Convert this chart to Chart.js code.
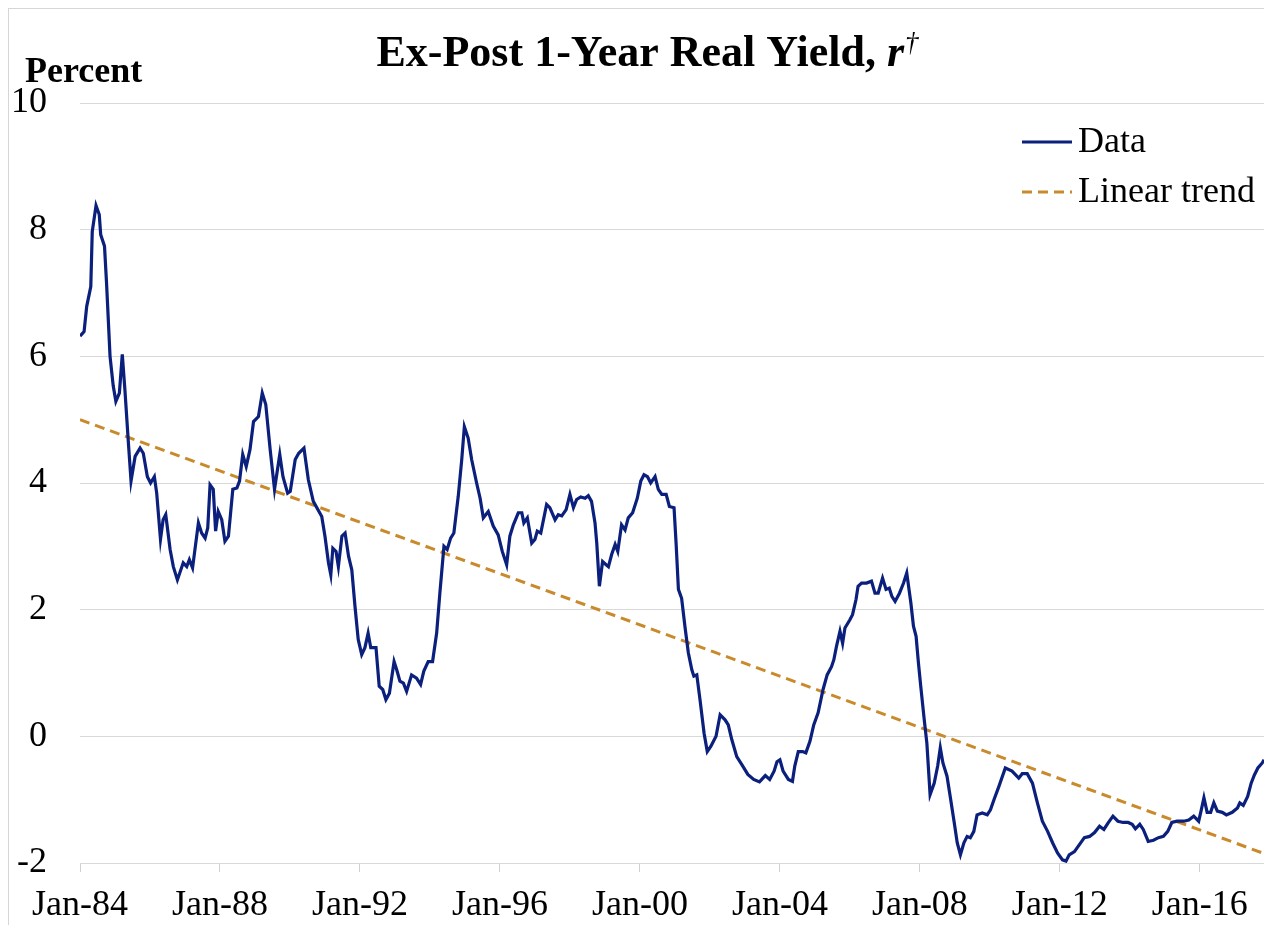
<!DOCTYPE html>
<html><head><meta charset="utf-8">
<script src="https://cdn.jsdelivr.net/npm/chart.js@4.4.0/dist/chart.umd.min.js"></script>
<style>
html,body{margin:0;padding:0;background:#fff;}
#wrap{position:relative;width:1264px;height:925px;overflow:hidden;}
#frame{position:absolute;left:8px;top:8px;right:-2px;bottom:-2px;border-left:1px solid #d6d6d6;border-top:1px solid #d6d6d6;}
canvas{position:absolute;left:0;top:0;}
</style></head><body>
<div id="wrap"><div id="frame"></div><canvas id="c" width="1264" height="925"></canvas></div>
<script>
// months since Jan-84
const monthIndex = [
0,1.4,2.3,3.7,4.2,5.5,6.6,7.1,8.4,9.1,10.3,11.4,12.3,13.5,14.5,15.4,16.6,17.5,18.9,20.6,21.7,23.1,24.2,25.5,26.3,27.6,28.5,29.4,30.9,32.0,33.4,35.4,36.6,37.5,38.6,40.6,41.7,42.9,43.8,44.6,45.7,46.5,47.4,48.6,49.7,50.9,52.4,53.8,54.7,55.8,57.0,58.3,59.5,61.2,62.5,63.7,65.2,66.7,68.5,69.6,71.2,72.1,73.8,75.0,
76.8,78.3,80.0,82.9,84.0,85.2,86.0,86.7,87.8,88.6,89.8,90.9,92.1,93.2,94.3,95.4,96.6,97.7,98.8,99.7,101.5,102.6,103.8,104.9,106.1,107.7,108.6,109.7,110.9,112.0,113.7,115.4,116.8,117.9,119.4,120.9,122.3,123.4,124.8,125.9,127.1,128.2,129.7,130.9,131.8,133.1,134.3,136.0,137.2,138.3,140.0,141.7,143.4,144.8,146.3,147.4,148.6,150.3,151.5,152.2,153.4,154.9,156.0,156.8,158.0,
160.0,161.1,162.9,164.0,165.2,166.7,168.0,169.2,170.3,171.7,173.2,174.3,175.4,176.6,177.2,178.1,179.2,180.4,181.2,182.3,183.5,184.4,185.7,186.9,188.0,189.5,191.1,192.3,193.4,194.6,195.7,197.2,198.3,199.5,201.0,202.1,203.7,204.4,205.2,206.3,207.5,208.6,209.8,210.5,211.5,212.6,214.0,215.1,216.3,218.1,219.5,221.2,222.3,223.5,225.2,
227,229,231,233,235,236.5,238,239,
240.0,241.1,242.9,244.3,245.1,246.3,247.8,248.9,250.3,251.6,253.1,254.8,256.2,257.7,258.5,259.4,260.6,261.5,262.3,264.0,264.9,266.1,266.8,268.0,269.7,271.4,272.6,273.7,275.2,276.4,277.5,278.4,279.5,281.0,282.4,283.5,284.9,285.8,286.7,287.5,288.3,289.5,290.4,291.5,292.9,294.1,295.0,295.9,297.3,298.4,299.8,300.8,301.9,303.1,304.2,305.3,306.5,307.6,309.4,311.1,312.2,313.4,315.1,
317.3,319.6,321.9,323.1,324.8,326.6,328.3,330.0,331.8,333.5,335.2,336.9,338.1,339.2,341.0,342.7,344.4,346.2,347.9,349.6,351.1,352.5,354.2,355.9,357.7,359.4,360.8,361.9,363.4,364.6,366.3,368.1,369.8,371.5,373.0,374.4,376.2,378.5,380.2,381.9,383.6,384.5,385.4,386.5,387.7,388.8,390.0,391.7,393.1,395.1,396.9,397.7,398.9,400.4,401.6,402.7,403.9,405.4,406.0
];
const realYield = [
6.32,6.39,6.79,7.10,7.97,8.38,8.24,7.92,7.74,7.16,6.00,5.53,5.29,5.42,6.03,5.47,4.63,4.03,4.42,4.55,4.47,4.10,4.00,4.10,3.84,3.11,3.42,3.50,2.95,2.68,2.47,2.74,2.68,2.79,2.66,3.37,3.21,3.13,3.29,3.97,3.90,3.24,3.55,3.42,3.08,3.16,3.90,3.92,4.03,4.45,4.26,4.53,4.97,5.05,5.42,5.24,4.53,3.90,4.45,4.10,3.84,3.87,4.37,4.47,
4.55,4.05,3.71,3.47,3.16,2.74,2.55,2.97,2.92,2.68,3.16,3.21,2.84,2.63,2.05,1.53,1.29,1.40,1.63,1.40,1.40,0.79,0.74,0.58,0.68,1.18,1.05,0.87,0.84,0.71,0.97,0.92,0.82,1.03,1.18,1.18,1.63,2.26,3.00,2.95,3.13,3.21,3.79,4.37,4.89,4.71,4.37,4.00,3.76,3.45,3.55,3.32,3.18,2.92,2.71,3.16,3.34,3.53,3.53,3.37,3.45,3.05,3.11,3.24,3.21,
3.66,3.61,3.42,3.50,3.48,3.58,3.82,3.61,3.74,3.78,3.76,3.80,3.71,3.37,3.05,2.37,2.76,2.71,2.68,2.87,3.03,2.92,3.34,3.26,3.45,3.53,3.76,4.03,4.13,4.10,4.00,4.10,3.90,3.82,3.82,3.63,3.61,3.05,2.32,2.18,1.71,1.32,1.05,0.95,0.97,0.58,0.05,-0.24,-0.16,0.00,0.34,0.26,0.18,-0.05,-0.32,
-0.45,-0.60,-0.68,-0.72,-0.62,-0.68,-0.55,-0.40,
-0.37,-0.55,-0.68,-0.71,-0.47,-0.24,-0.24,-0.26,-0.08,0.18,0.37,0.74,0.97,1.10,1.21,1.42,1.66,1.47,1.71,1.84,1.92,2.16,2.37,2.42,2.42,2.45,2.26,2.26,2.50,2.32,2.34,2.21,2.13,2.26,2.42,2.58,2.11,1.74,1.58,1.16,0.79,0.26,-0.11,-0.92,-0.74,-0.47,-0.18,-0.42,-0.63,-0.95,-1.37,-1.68,-1.87,-1.68,-1.58,-1.60,-1.50,-1.24,-1.21,-1.24,-1.16,-1.00,-0.79,
-0.50,-0.55,-0.66,-0.59,-0.59,-0.74,-1.05,-1.34,-1.50,-1.68,-1.84,-1.95,-1.97,-1.87,-1.82,-1.71,-1.60,-1.58,-1.52,-1.42,-1.47,-1.37,-1.26,-1.34,-1.36,-1.36,-1.39,-1.46,-1.39,-1.47,-1.66,-1.64,-1.60,-1.58,-1.50,-1.36,-1.34,-1.34,-1.32,-1.26,-1.34,-1.16,-0.97,-1.20,-1.20,-1.05,-1.18,-1.20,-1.24,-1.20,-1.13,-1.05,-1.09,-0.95,-0.74,-0.61,-0.50,-0.42,-0.37
];
const trendMonths = [0, 406];
const trendValues = [5.0, -1.85];
const xTickLabels = ["Jan-84","Jan-88","Jan-92","Jan-96","Jan-00","Jan-04","Jan-08","Jan-12","Jan-16"];
const xTickMonths = [0,48,96,144,192,240,288,336,384];
const seriesNames = ["Data","Linear trend"];

const SERIF = '"Liberation Serif","Times New Roman",serif';
const dataColor = '#0b1f7c';
const trendColor = '#c98a2c';

const overlay = {
  id: 'overlay',
  afterDraw(chart) {
    const ctx = chart.ctx;
    ctx.save();
    ctx.fillStyle = '#000';
    ctx.textBaseline = 'alphabetic';
    // title
    const p1 = 'Ex-Post 1-Year Real Yield, ';
    ctx.font = 'bold 44px ' + SERIF;
    const w1 = ctx.measureText(p1).width;
    ctx.font = 'italic bold 44px ' + SERIF;
    const w2 = ctx.measureText('r').width;
    ctx.font = 'italic 27px ' + SERIF;
    const w3 = ctx.measureText('\u2020').width;
    let x = 647 - (w1 + w2 + w3) / 2;
    const by = 66;
    ctx.font = 'bold 44px ' + SERIF;
    ctx.fillText(p1, x, by); x += w1;
    ctx.font = 'italic bold 44px ' + SERIF;
    ctx.fillText('r', x, by); x += w2 + 1;
    ctx.font = 'italic 27px ' + SERIF;
    ctx.fillText('\u2020', x, by - 15);
    // y unit
    ctx.font = 'bold 36px ' + SERIF;
    ctx.fillText('Percent', 25, 82);
    // legend
    const rows = [142, 192];
    chart.data.datasets.forEach((ds, i) => {
      const y = rows[i];
      ctx.strokeStyle = ds.borderColor;
      ctx.lineWidth = ds.borderWidth;
      ctx.setLineDash(ds.borderDash || []);
      ctx.beginPath();
      ctx.moveTo(1022, y);
      ctx.lineTo(1072, y);
      ctx.stroke();
      ctx.setLineDash([]);
      ctx.font = '36px ' + SERIF;
      ctx.textBaseline = 'middle';
      ctx.fillText(ds.label, 1078, y + 1);
    });
    ctx.restore();
  }
};

new Chart(document.getElementById('c'), {
  type: 'line',
  data: {
    datasets: [
      {
        label: seriesNames[0],
        data: monthIndex.map((m, i) => ({x: m, y: realYield[i]})),
        borderColor: dataColor, borderWidth: 3.2, pointRadius: 0, tension: 0, fill: false
      },
      {
        label: seriesNames[1],
        data: trendMonths.map((m, i) => ({x: m, y: trendValues[i]})),
        borderColor: trendColor, borderWidth: 3, borderDash: [10, 6], pointRadius: 0, fill: false
      }
    ]
  },
  options: {
    responsive: false,
    animation: false,
    devicePixelRatio: 1,
    layout: { padding: { top: 103, left: 0, right: 0, bottom: 0 } },
    plugins: { legend: { display: false }, title: { display: false }, tooltip: { enabled: false } },
    scales: {
      x: {
        type: 'linear', min: 0, max: 406,
        afterBuildTicks: s => { s.ticks = xTickMonths.map(v => ({value: v})); },
        afterFit: s => { s.height = 62; },
        grid: { drawOnChartArea: false, drawTicks: true, tickLength: 9, color: '#d0d0d0' },
        border: { display: false },
        ticks: {
          autoSkip: false, maxRotation: 0, padding: 12, color: '#000',
          font: { family: SERIF, size: 36 },
          callback: (v) => { const i = xTickMonths.indexOf(v); return i >= 0 ? xTickLabels[i] : ''; }
        }
      },
      y: {
        min: -2, max: 10,
        afterFit: s => { s.width = 80; },
        grid: { color: '#d9d9d9', drawTicks: false },
        border: { display: false },
        ticks: { stepSize: 2, padding: 33, color: '#000', font: { family: SERIF, size: 36 } }
      }
    }
  },
  plugins: [overlay]
});
</script>
</body></html>
